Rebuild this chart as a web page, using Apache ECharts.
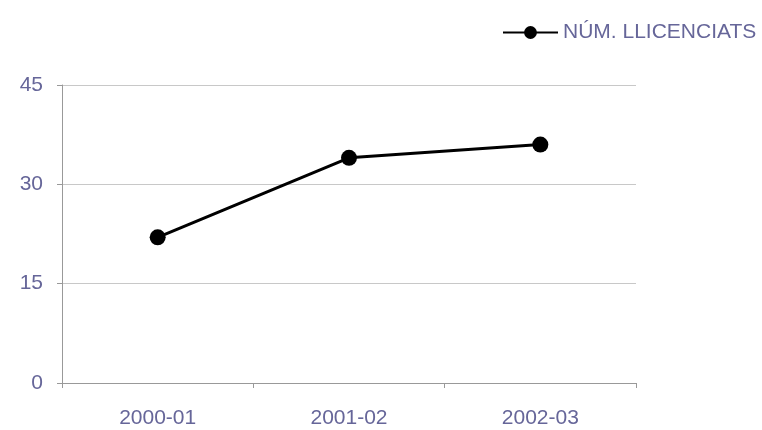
<!DOCTYPE html>
<html>
<head>
<meta charset="utf-8">
<script src="https://cdn.jsdelivr.net/npm/echarts@6/dist/echarts.min.js"></script>
<style>
  html, body { margin: 0; padding: 0; background: #fff; }
  #main { width: 762px; height: 430px; }
</style>
</head>
<body>
<div id="main"></div>
<script>
// dades del gràfic
const categories = ['2000-01', '2001-02', '2002-03'];
const llicenciats = [22, 34, 36];
const seriesName = 'NÚM. LLICENCIATS';

const textColor = '#666699';

const chart = echarts.init(document.getElementById('main'));
chart.setOption({
    backgroundColor: '#fff',
    animation: false,
    textStyle: { fontFamily: 'Liberation Sans, Arial, sans-serif' },
    legend: {
        data: [seriesName],
        left: 497,
        top: 17,
        itemWidth: 55,
        itemHeight: 16,
        itemGap: 6,
        textStyle: { color: textColor, fontSize: 21 }
    },
    grid: {
        left: 62,
        right: 126,
        top: 85,
        bottom: 47,
        containLabel: false
    },
    xAxis: {
        type: 'category',
        data: categories,
        boundaryGap: true,
        axisLine: { lineStyle: { color: '#999999', width: 1 } },
        axisTick: { show: true, length: 5, lineStyle: { color: '#999999' } },
        axisLabel: { color: textColor, fontSize: 21, margin: 25 }
    },
    yAxis: {
        type: 'value',
        min: 0,
        max: 45,
        interval: 15,
        axisLine: { show: true, lineStyle: { color: '#999999', width: 1 } },
        axisTick: { show: true, length: 5, lineStyle: { color: '#999999' } },
        axisLabel: { color: textColor, fontSize: 21, margin: 19 },
        splitLine: { lineStyle: { color: '#c8c8c8', width: 1 } }
    },
    series: [{
        name: seriesName,
        type: 'line',
        data: llicenciats,
        symbol: 'circle',
        symbolSize: 16,
        itemStyle: { color: '#000' },
        lineStyle: { color: '#000', width: 3 }
    }]
});
</script>
</body>
</html>
